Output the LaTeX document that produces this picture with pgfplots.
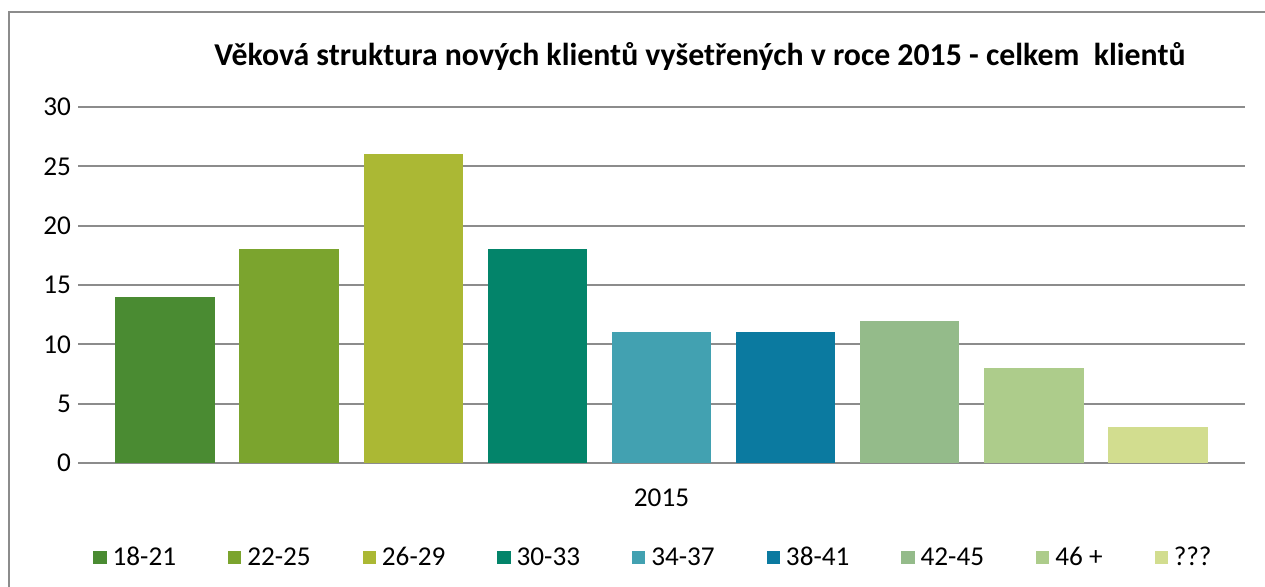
\documentclass[border=0pt]{standalone}
\usepackage{pgfplots}
\pgfplotsset{compat=1.18}
\usepackage{fontspec}
\setmainfont{Carlito}

\definecolor{c1}{HTML}{4A8B32}
\definecolor{c2}{HTML}{7BA42E}
\definecolor{c3}{HTML}{ABB834}
\definecolor{c4}{HTML}{03846A}
\definecolor{c5}{HTML}{42A1B1}
\definecolor{c6}{HTML}{0B7AA0}
\definecolor{c7}{HTML}{94BB8A}
\definecolor{c8}{HTML}{ADCC8B}
\definecolor{c9}{HTML}{D2DD8F}
\definecolor{gridgray}{HTML}{8C8C8C}

\begin{document}
\begin{tikzpicture}[x=1pt,y=1pt]
\useasboundingbox (0,0) rectangle (632.5,-293.5);
\draw[color=gridgray, line width=1pt] (4.5,-300) -- (4.5,-6) -- (640,-6);
\begin{axis}[
  at={(39pt,-231.5pt)}, anchor=south west,
  scale only axis, width=583.5pt, height=178pt,
  ybar, bar width=0.8, bar shift=0pt,
  every axis plot post/.append style={
    legend image code/.code={\fill[#1] (0pt,-3.3pt) rectangle (6.6pt,3.3pt);}},
  xmin=-0.7, xmax=8.7, ymin=0, ymax=30,
  ytick={0,5,...,30},
  xtick={4}, xticklabels={2015},
  axis line style={draw=none},
  major tick length=0pt,
  ytick style={draw=none}, xtick style={draw=none},
  ymajorgrids,
  grid style={color=gridgray, line width=0.9pt},
  /pgf/number format/assume math mode=true,
  tick label style={font=\fontsize{13.6}{16}\selectfont},
  xticklabel style={yshift=-9.5pt},
  title={Věková struktura nových klientů vyšetřených v roce 2015 - celkem\ \ klientů},
  title style={at={(0.533,1)}, anchor=center, yshift=19.5pt, font=\bfseries\fontsize{15.9}{19}\selectfont},
  legend columns=9,
  legend style={at={(0.494,-0.266)}, anchor=center, draw=none,
    font=\fontsize{13.6}{16}\selectfont,
    /tikz/every odd column/.append style={column sep=1pt},
    /tikz/every even column/.append style={column sep=24pt}},
  legend cell align=left,
]
\addplot[fill=c1, draw=none] coordinates {(0,14)};
\addlegendentry{18-21}
\addplot[fill=c2, draw=none] coordinates {(1,18)};
\addlegendentry{22-25}
\addplot[fill=c3, draw=none] coordinates {(2,26)};
\addlegendentry{26-29}
\addplot[fill=c4, draw=none] coordinates {(3,18)};
\addlegendentry{30-33}
\addplot[fill=c5, draw=none] coordinates {(4,11)};
\addlegendentry{34-37}
\addplot[fill=c6, draw=none] coordinates {(5,11)};
\addlegendentry{38-41}
\addplot[fill=c7, draw=none] coordinates {(6,12)};
\addlegendentry{42-45}
\addplot[fill=c8, draw=none] coordinates {(7,8)};
\addlegendentry{46 +}
\addplot[fill=c9, draw=none] coordinates {(8,3)};
\addlegendentry{???}
\end{axis}
\end{tikzpicture}
\end{document}
